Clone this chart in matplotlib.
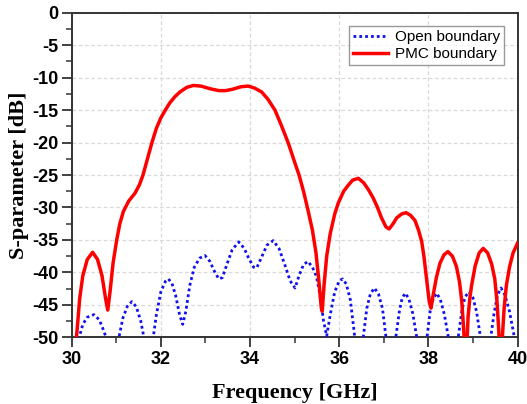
import matplotlib
matplotlib.use("Agg")
import matplotlib.pyplot as plt
from matplotlib.ticker import MultipleLocator

plt.rcParams["axes.unicode_minus"] = False

# ---- data ----
pmc_freq = [30.08, 30.12, 30.18, 30.25, 30.35, 30.47, 30.58, 30.68, 30.76, 30.81,
            30.86, 30.93, 31.01, 31.08, 31.16, 31.28, 31.42, 31.52, 31.6, 31.7,
            31.8, 31.9, 32.0, 32.1, 32.2, 32.32, 32.43, 32.58, 32.73, 32.9,
            33.1, 33.3, 33.45, 33.6, 33.8, 33.96, 34.1, 34.26, 34.4, 34.56,
            34.7, 34.86, 35.0, 35.1, 35.2, 35.3, 35.4, 35.48, 35.54, 35.6,
            35.62, 35.66, 35.72, 35.8, 35.9, 35.98, 36.1, 36.2, 36.3, 36.43,
            36.55, 36.66, 36.76, 36.86, 36.95, 37.05, 37.12, 37.2, 37.29, 37.4,
            37.5, 37.6, 37.7, 37.78, 37.85, 37.9, 37.96, 38.02, 38.06, 38.1,
            38.18, 38.26, 38.35, 38.44, 38.54, 38.63, 38.7, 38.75, 38.79, 38.83,
            38.86, 38.89, 38.93, 38.97, 39.05, 39.14, 39.23, 39.33, 39.42, 39.49,
            39.54, 39.58, 39.615, 39.66, 39.7, 39.75, 39.82, 39.9, 40.0]
pmc_db = [-52, -49, -44, -40.5, -38, -36.9, -38, -40.5, -44, -45.8,
          -43, -38.5, -35, -32.5, -30.6, -29, -27.8, -26.5, -25, -22.5,
          -20, -17.8, -16.2, -15, -13.9, -12.9, -12.2, -11.5, -11.2, -11.3,
          -11.7, -12.0, -12.0, -11.8, -11.4, -11.3, -11.6, -12.2, -13.3, -15,
          -17.3, -20.1, -23, -25, -27.5, -30.4, -33.5, -37, -41, -45.5,
          -46, -42, -37.5, -34, -31, -29.3, -27.5, -26.6, -25.8, -25.5,
          -26.2, -27.3, -28.5, -30, -31.6, -33, -33.3, -32.6, -31.6, -31,
          -30.8, -31.2, -32, -33.5, -35.2, -37.5, -41, -44.5, -45.5, -43.8,
          -40.8, -38.6, -37.3, -36.8, -37.5, -39.1, -41.5, -44.5, -48.5, -54,
          -52, -47, -44, -42, -39, -37, -36.3, -37, -38.7, -41,
          -44.5, -49, -55, -50, -45.5, -42, -39.2, -37, -35.5]

open_freq = [30.12, 30.17, 30.25, 30.35, 30.5, 30.62, 30.72, 30.77, 30.92, 31.06,
             31.15, 31.25, 31.35, 31.45, 31.55, 31.62, 31.72, 31.83, 31.9, 32.0,
             32.1, 32.17, 32.25, 32.33, 32.42, 32.49, 32.56, 32.65, 32.75, 32.87,
             32.99, 33.1, 33.2, 33.3, 33.38, 33.48, 33.6, 33.75, 33.87, 33.97,
             34.08, 34.15, 34.25, 34.38, 34.52, 34.65, 34.78, 34.9, 35.01, 35.1,
             35.2, 35.3, 35.4, 35.49, 35.57, 35.65, 35.72, 35.8, 35.9, 36.0,
             36.08, 36.16, 36.25, 36.35, 36.45, 36.54, 36.62, 36.7, 36.79, 36.88,
             36.97, 37.05, 37.16, 37.27, 37.35, 37.41, 37.48, 37.56, 37.65, 37.74,
             37.85, 37.97, 38.04, 38.11, 38.19, 38.27, 38.36, 38.45, 38.56, 38.67,
             38.75, 38.82, 38.91, 39.0, 39.08, 39.17, 39.27, 39.4, 39.47, 39.55,
             39.63, 39.72, 39.82, 39.93, 39.98]
open_db = [-53, -50, -48, -46.9, -46.5, -47.3, -49, -50, -58, -50,
           -47, -45.2, -44.5, -45.3, -47.5, -50, -56, -50, -46.5, -43,
           -41.4, -41.0, -41.7, -43.5, -46.5, -48.0, -46, -42, -39.2, -37.8,
           -37.4, -38.3, -39.8, -41.0, -40.8, -38.8, -36.5, -35.3, -36.3, -37.8,
           -39.2, -39.3, -37.8, -35.8, -35.1, -36.3, -38.8, -41.3, -42.4, -40.5,
           -38.8, -38.3, -39.2, -40.6, -43.5, -47.5, -49.8, -46.5, -43, -41.3,
           -41.0, -41.8, -44.2, -50, -55, -50, -45.5, -43.3, -42.4, -43.3,
           -45.5, -50, -55, -50, -46, -44, -43.2, -44, -46.3, -50,
           -55, -50, -46, -44, -43.2, -44.2, -46.5, -50, -55, -50,
           -46, -43.8, -43.0, -43.9, -46, -50, -55, -50, -46.5, -43.5,
           -42.4, -43.5, -46, -50, -53]

x_ticks = [30, 32, 34, 36, 38, 40]
y_ticks = [0, -5, -10, -15, -20, -25, -30, -35, -40, -45, -50]

fig = plt.figure(figsize=(5.27, 4.04), dpi=100)
ax = fig.add_axes([0.136, 0.165, 0.846, 0.8035])

ax.plot(open_freq, open_db, color="#1010ee", lw=2.0, linestyle=(0, (1, 1.1)),
        label="Open boundary", zorder=3)
ax.plot(pmc_freq, pmc_db, color="#ff0000", lw=2.5, label="PMC boundary", zorder=4)

ax.set_xlim(30, 40)
ax.set_ylim(-50, 0)
ax.set_xticks(x_ticks)
ax.set_yticks(y_ticks)
ax.xaxis.set_minor_locator(MultipleLocator(1))
ax.yaxis.set_minor_locator(MultipleLocator(2.5))
ax.tick_params(which="major", direction="out", length=7, width=1.3, pad=2.5,
               top=False, right=False, color="#333333")
ax.tick_params(which="minor", direction="out", length=4, width=1.1,
               top=False, right=False, color="#333333")
for lab in ax.get_xticklabels() + ax.get_yticklabels():
    lab.set_fontfamily("Liberation Sans")
    lab.set_fontweight("bold")
    lab.set_fontsize(13)

ax.grid(True, which="major", color="#d9d9d9", linestyle=(0, (3, 2)), lw=0.9)
ax.set_axisbelow(True)
for s in ax.spines.values():
    s.set_linewidth(1.4)
    s.set_color("#333333")

ax.set_xlabel("Frequency [GHz]", fontfamily="Liberation Serif", fontweight="bold",
              fontsize=16, labelpad=11)
ax.set_ylabel("S-parameter [dB]", fontfamily="Liberation Serif", fontweight="bold",
              fontsize=16)
ax.yaxis.set_label_coords(-0.095, 0.5)

leg = ax.legend(loc="upper right", prop={"family": "Liberation Sans", "size": 11},
                frameon=True, fancybox=False, edgecolor="#808080",
                handlelength=2.3, handletextpad=0.45, borderpad=0.25,
                labelspacing=0.2, borderaxespad=0.9)
leg.get_frame().set_linewidth(1.0)

fig.savefig("out.png", dpi=100)
